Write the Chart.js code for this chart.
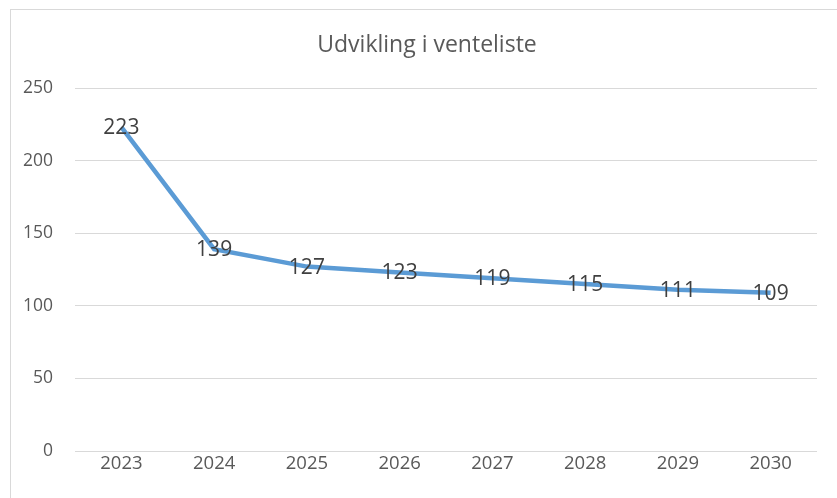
<!DOCTYPE html>
<html>
<head>
<meta charset="utf-8">
<script src="https://cdn.jsdelivr.net/npm/chart.js@4.4.1/dist/chart.umd.min.js"></script>
<style>
  html, body { margin: 0; padding: 0; background: #fff; overflow: hidden; }
  #frame {
    position: absolute; left: 10px; top: 9px; width: 900px; height: 600px;
    border-left: 1px solid #d9d9d9; border-top: 1px solid #d9d9d9;
  }
  #chart { position: absolute; left: 0; top: 0; }
</style>
</head>
<body>
<div id="frame"></div>
<canvas id="chart" width="837" height="498"></canvas>
<script>
// chart data
const years = ['2023', '2024', '2025', '2026', '2027', '2028', '2029', '2030'];
const waitingList = [223, 139, 127, 123, 119, 115, 111, 109];
const yTicks = [0, 50, 100, 150, 200, 250];

const titleText = 'Udvikling i venteliste';
const FONT = '"Open Sans", sans-serif';

// centred value labels on each point
const valueLabels = {
    id: 'valueLabels',
    afterDatasetsDraw(chart) {
        const ctx = chart.ctx;
        const meta = chart.getDatasetMeta(0);
        ctx.save();
        ctx.font = '21px ' + FONT;
        ctx.fillStyle = '#404040';
        ctx.textAlign = 'center';
        ctx.textBaseline = 'middle';
        meta.data.forEach((pt, i) => {
            ctx.fillText(String(waitingList[i]), pt.x, pt.y + 1);
        });
        ctx.restore();
    },
};

// title sits a bit off the plot centre, like the Excel original
const chartTitle = {
    id: 'chartTitle',
    afterDraw(chart) {
        const ctx = chart.ctx;
        ctx.save();
        ctx.font = '23px ' + FONT;
        ctx.fillStyle = '#595959';
        ctx.textAlign = 'center';
        ctx.textBaseline = 'middle';
        ctx.fillText(titleText, 427, 45);
        ctx.restore();
    },
};

function draw() {
    new Chart(document.getElementById('chart'), {
        type: 'line',
        data: {
            labels: years,
            datasets: [{
                data: waitingList,
                borderColor: '#5B9BD5',
                borderWidth: 4.5,
                tension: 0,
                pointRadius: 0,
                pointHoverRadius: 0,
                fill: false,
            }],
        },
        options: {
            responsive: false,
            animation: false,
            layout: { padding: { left: 18, right: 20, top: 88, bottom: 0 } },
            plugins: {
                legend: { display: false },
                title: { display: false },
                tooltip: { enabled: false },
            },
            scales: {
                x: {
                    offset: true,
                    grid: { display: false },
                    border: { display: false },
                    ticks: { color: '#595959', font: { family: FONT, size: 18.5 }, padding: -6, maxRotation: 0 },
                    afterFit: (scale) => { scale.height = 47; },
                },
                y: {
                    min: 0,
                    max: 250,
                    afterBuildTicks: (scale) => { scale.ticks = yTicks.map(v => ({ value: v })); },
                    grid: { color: '#d9d9d9', lineWidth: 1, drawTicks: false },
                    border: { display: false },
                    ticks: { color: '#595959', font: { family: FONT, size: 17.5 }, padding: 22 },
                    afterFit: (scale) => { scale.width = 57; },
                },
            },
        },
        plugins: [valueLabels, chartTitle],
    });
}

Promise.all([
    document.fonts.load('17px "Open Sans"'),
    document.fonts.load('21px "Open Sans"'),
]).then(draw, draw);
</script>
</body>
</html>
